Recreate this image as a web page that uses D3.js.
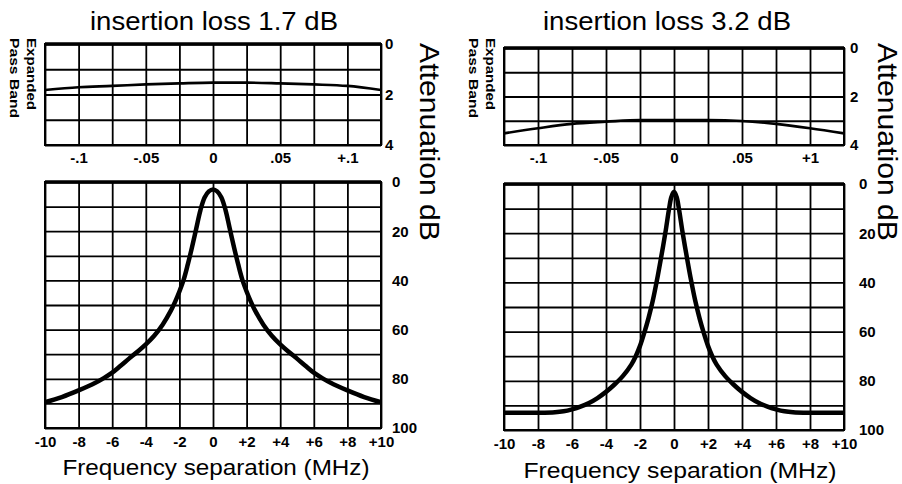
<!DOCTYPE html>
<html>
<head>
<meta charset="utf-8">
<script src="https://cdn.jsdelivr.net/npm/d3@7"></script>
<style>
	body { margin: 0; background: #fff; }
	svg { display: block; font-family: "Liberation Sans", Arial, sans-serif; }
</style>
</head>
<body>
<main></main>
<script>
// values

const titles = ["insertion loss  1.7 dB", "insertion loss  3.2 dB"];

// expanded pass band (MHz, dB)
const passFreq = [-0.125, -0.1, -0.075, -0.05, -0.025, 0, 0.025, 0.05, 0.075, 0.1, 0.125];
const passLossA = [1.82, 1.71, 1.66, 1.6, 1.56, 1.53, 1.53, 1.56, 1.6, 1.66, 1.82];
const passLossB = [3.52, 3.31, 3.13, 3.04, 2.97, 2.97, 2.97, 3.01, 3.13, 3.31, 3.52];
const passTickVals = [-0.1, -0.05, 0, 0.05, 0.1];
const passTickLabelsA = ["-.1", "-.05", "0", ".05", "+.1"];
const passTickLabelsB = ["-.1", "-.05", "0", ".05", "+1"];
const passLossTicks = [0, 2, 4];

// wide response (MHz, dB)
const wideFreqA = [-10, -9, -8, -7, -6.5, -6, -5.5, -5, -4.5, -4, -3.5, -3, -2.5, -2.25, -2, -1.75, -1.5, -1.25, -1, -0.75, -0.5, -0.25, 0,
	0.25, 0.5, 0.75, 1, 1.25, 1.5, 1.75, 2, 2.25, 2.5, 3, 3.5, 4, 4.5, 5, 5.5, 6, 6.5, 7, 8, 9, 10];
const wideLossA = [89.5, 87.4, 84.7, 81.6, 79.7, 77.5, 74.7, 71.8, 69, 66, 62.5, 58, 52.2, 48.6, 44.5, 39.8, 33.5, 26.5, 19, 11.5, 6.3, 3.8, 3,
	3.8, 6.3, 11.5, 19, 26.5, 33.5, 39.8, 44.5, 48.6, 52.2, 58, 62.5, 66, 69, 71.8, 74.7, 77.5, 79.7, 81.6, 84.7, 87.4, 89.5];

const wideFreqB = [-10, -8, -7, -6.5, -6, -5.5, -5, -4.5, -4, -3.5, -3, -2.5, -2.25, -2, -1.75, -1.5, -1.25, -1, -0.75, -0.5, -0.3, -0.15, 0,
	0.15, 0.3, 0.5, 0.75, 1, 1.25, 1.5, 1.75, 2, 2.25, 2.5, 3, 3.5, 4, 4.5, 5, 5.5, 6, 6.5, 7, 8, 10];
const wideLossB = [93, 93, 92.8, 92.4, 91.6, 90.5, 89, 87, 84.5, 81.5, 78, 73.3, 70, 65.8, 60.5, 54.5, 47.5, 39, 29.5, 19.5, 10.5, 5.2, 3.2,
	5.2, 10.5, 19.5, 29.5, 39, 47.5, 54.5, 60.5, 65.8, 70, 73.3, 78, 81.5, 84.5, 87, 89, 90.5, 91.6, 92.4, 92.8, 93, 93];

const wideTickVals = [-10, -8, -6, -4, -2, 0, 2, 4, 6, 8, 10];
const wideTickLabels = ["-10", "-8", "-6", "-4", "-2", "0", "+2", "+4", "+6", "+8", "+10"];
const wideLossTicks = [0, 20, 40, 60, 80, 100];

const FONT = "Liberation Sans, Arial, sans-serif";

function drawGrid(svg, x, y, xs, ys, thickTop) {
	const [x0, x1] = x.range();
	const [y0, y1] = y.range();

	// vertical lines
	svg.append("g")
		.attr("transform", `translate(0,${y1})`)
		.call(d3.axisBottom(x).tickValues(xs).tickSize(-(y1 - y0)).tickFormat(""))
		.call(g => g.select(".domain").remove())
		.selectAll("line").attr("stroke", "#000").attr("stroke-width", 1.8);

	// horizontal lines
	svg.append("g")
		.attr("transform", `translate(${x0},0)`)
		.call(d3.axisLeft(y).tickValues(ys).tickSize(-(x1 - x0)).tickFormat(""))
		.call(g => g.select(".domain").remove())
		.selectAll("line").attr("stroke", "#000").attr("stroke-width", 1.8);

	svg.append("rect")
		.attr("x", x0).attr("y", y0)
		.attr("width", x1 - x0).attr("height", y1 - y0)
		.attr("fill", "none").attr("stroke", "#000").attr("stroke-width", 2);

	svg.append("line")
		.attr("x1", x0).attr("x2", x1)
		.attr("y1", y0).attr("y2", y0)
		.attr("stroke", "#000").attr("stroke-width", thickTop);
}

function drawLabels(svg, x, y, xVals, xLabels, xPad, yVals, yPad) {
	const [, y1] = y.range();
	const [, x1] = x.range();

	svg.append("g")
		.attr("transform", `translate(0,${y1})`)
		.call(d3.axisBottom(x).tickValues(xVals).tickFormat((d, i) => xLabels[i]).tickSize(0).tickPadding(xPad))
		.call(g => g.select(".domain").remove())
		.attr("font-family", FONT).attr("font-size", 15).attr("font-weight", "bold")
		.selectAll("text").attr("fill", "#000");

	svg.append("g")
		.attr("transform", `translate(${x1},0)`)
		.call(d3.axisRight(y).tickValues(yVals).tickFormat(d3.format("d")).tickSize(0).tickPadding(yPad))
		.call(g => g.select(".domain").remove())
		.attr("font-family", FONT).attr("font-size", 15).attr("font-weight", "bold")
		.selectAll("text").attr("fill", "#000");
}

function drawPanel(svg, p) {

	// scales
	const xPass = d3.scaleLinear().domain([-0.125, 0.125]).range([p.left, p.right]);
	const yPass = d3.scaleLinear().domain([0, 4]).range([p.passTop, p.passBottom]);
	const xWide = d3.scaleLinear().domain([-10, 10]).range([p.left, p.right]);
	const yWide = d3.scaleLinear().domain([0, 100]).range([p.wideTop, p.wideBottom]);

	const passGrid = d3.range(11).map(i => -0.125 + i * 0.025);
	const wideGrid = d3.range(11).map(i => -10 + i * 2);

	drawGrid(svg, xPass, yPass, passGrid, d3.range(0, 5), 3.5);
	drawGrid(svg, xWide, yWide, wideGrid, d3.range(0, 101, 10), 3.5);

	drawLabels(svg, xPass, yPass, passTickVals, p.passLabels, 7, passLossTicks, p.yPadPass);
	drawLabels(svg, xWide, yWide, wideTickVals, wideTickLabels, 8, wideLossTicks, p.yPadWide);

	// curves
	const passLine = d3.line()
		.x(d => xPass(d[0]))
		.y(d => yPass(d[1]))
		.curve(d3.curveMonotoneX);

	const wideLine = d3.line()
		.x(d => xWide(d[0]))
		.y(d => yWide(d[1]))
		.curve(d3.curveCatmullRom.alpha(0.5));

	svg.append("path")
		.datum(d3.zip(passFreq, p.passLoss))
		.attr("d", passLine)
		.attr("fill", "none").attr("stroke", "#000").attr("stroke-width", 2.6);

	svg.append("path")
		.datum(d3.zip(p.wideFreq, p.wideLoss))
		.attr("d", wideLine)
		.attr("fill", "none").attr("stroke", "#000").attr("stroke-width", 4.5)
		.attr("stroke-linejoin", "round");

	// texts
	svg.append("text")
		.attr("x", p.titleX).attr("y", 30)
		.attr("text-anchor", "middle")
		.attr("font-family", FONT).attr("font-size", 25)
		.attr("textLength", 248).attr("lengthAdjust", "spacingAndGlyphs")
		.text(p.title);

	svg.append("text")
		.attr("x", p.xTitleX).attr("y", p.xTitleBase)
		.attr("text-anchor", "middle")
		.attr("font-family", FONT).attr("font-size", 22)
		.attr("textLength", p.xTitleLen).attr("lengthAdjust", "spacingAndGlyphs")
		.text("Frequency separation (MHz)");

	const side = svg.append("g")
		.attr("font-family", FONT).attr("font-size", 12).attr("font-weight", "bold");
	side.append("text")
		.attr("transform", `translate(${p.left - 18},38) rotate(90)`)
		.attr("textLength", 72).attr("lengthAdjust", "spacingAndGlyphs")
		.text("Expanded");
	side.append("text")
		.attr("transform", `translate(${p.left - 35},38) rotate(90)`)
		.attr("textLength", 80).attr("lengthAdjust", "spacingAndGlyphs")
		.text("Pass Band");

	svg.append("text")
		.attr("transform", `translate(${p.unitX},142) rotate(90)`)
		.attr("text-anchor", "middle")
		.attr("font-family", FONT).attr("font-size", 28)
		.attr("textLength", 198).attr("lengthAdjust", "spacingAndGlyphs")
		.text("Attenuation  dB");
}

function drawChart() {

	const width = 902;
	const height = 484;

	const svg = d3.select("main")
		.append("svg")
		.attr("width", width)
		.attr("height", height);

	svg.append("rect").attr("width", width).attr("height", height).attr("fill", "#fff");

	const panels = [
		{
			title: titles[0], left: 45, right: 381,
			passTop: 44, passBottom: 145, wideTop: 182, wideBottom: 428,
			passLoss: passLossA, passLabels: passTickLabelsA,
			wideFreq: wideFreqA, wideLoss: wideLossA,
			yPadPass: 4, yPadWide: 11,
			titleX: 214, xTitleX: 216, xTitleBase: 475, xTitleLen: 307, unitX: 420,
		},
		{
			title: titles[1], left: 504, right: 844,
			passTop: 48, passBottom: 145, wideTop: 184, wideBottom: 430,
			passLoss: passLossB, passLabels: passTickLabelsB,
			wideFreq: wideFreqB, wideLoss: wideLossB,
			yPadPass: 6, yPadWide: 15,
			titleX: 667, xTitleX: 680, xTitleBase: 478, xTitleLen: 313, unitX: 878,
		},
	];

	panels.forEach(p => drawPanel(svg, p));
}

drawChart();
</script>
</body>
</html>
